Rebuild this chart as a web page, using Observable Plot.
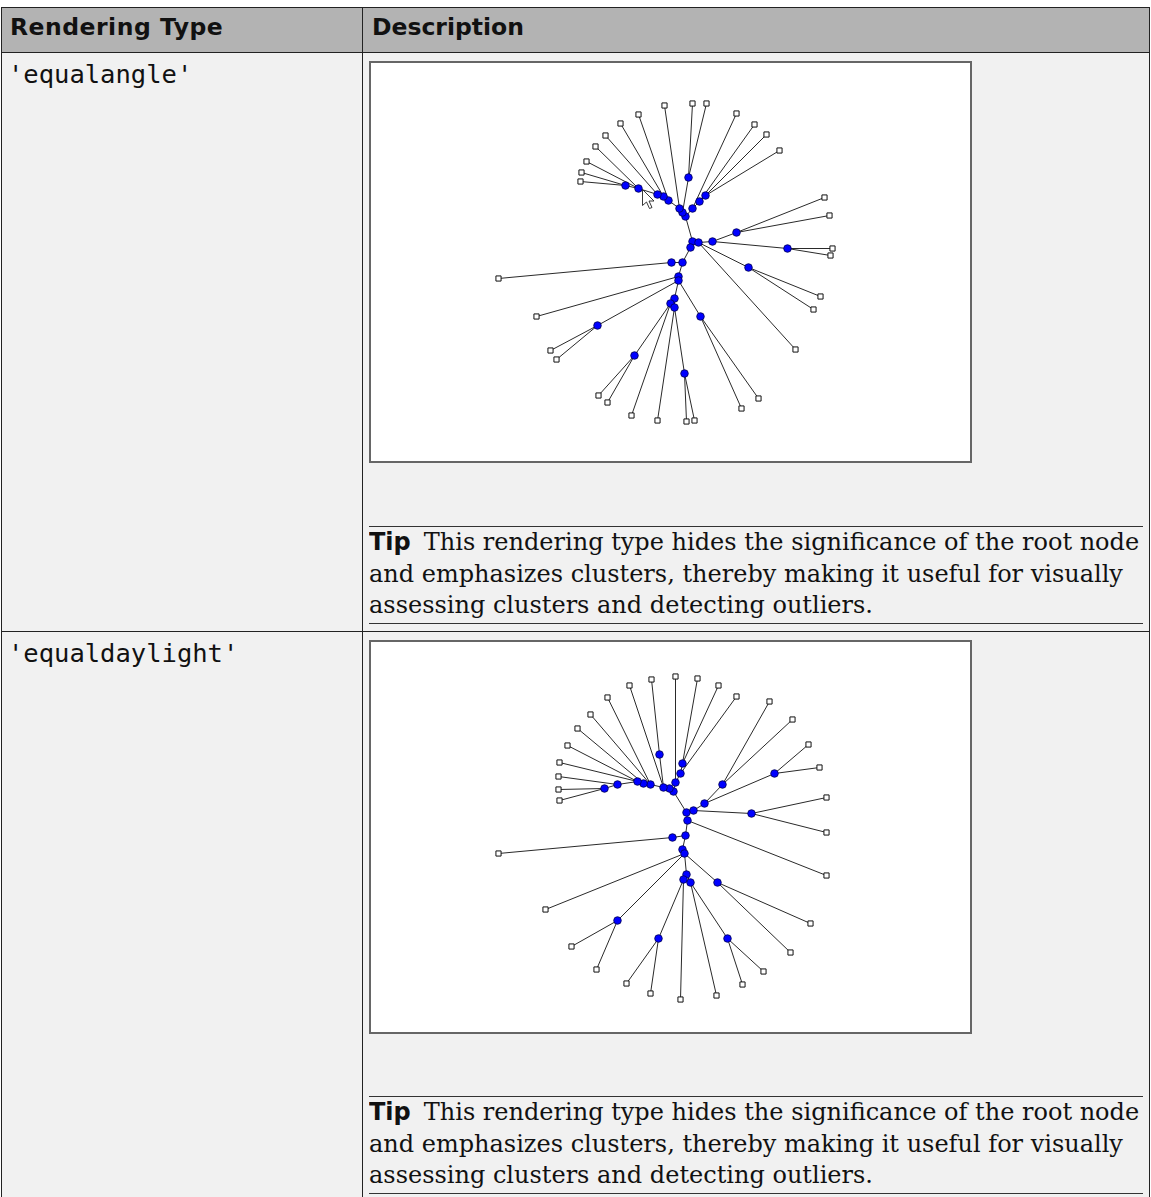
<!DOCTYPE html>
<html>
<head>
<meta charset="utf-8">
<script src="https://cdn.jsdelivr.net/npm/d3@7"></script>
<script src="https://cdn.jsdelivr.net/npm/@observablehq/plot@0.6"></script>
<style>
  html, body { margin: 0; padding: 0; background: #fff; }
  body { width: 1151px; height: 1197px; position: relative; overflow: hidden; }
  .abs { position: absolute; box-sizing: border-box; }
  .hdr { background: #b3b3b3; }
  .htext { font-family: "DejaVu Sans", sans-serif; font-weight: bold; font-size: 23.5px; color: #111; white-space: nowrap; }
  .mono { font-family: "DejaVu Sans Mono", monospace; font-size: 25.5px; color: #111; white-space: nowrap; }
  .box { background: #fff; border: 2px solid #666; }
  .tip { border-top: 1px solid #333; border-bottom: 1px solid #333; font-family: "DejaVu Serif", serif; font-size: 24px; line-height: 31.5px; color: #111; white-space: nowrap; overflow: hidden; }
  .tip b { font-family: "DejaVu Sans", sans-serif; font-weight: bold; margin-right: 13px; }
</style>
</head>
<body>
<script>
// ---- Table text ----
const headers = ["Rendering Type", "Description"];
const renderTypes = ["'equalangle'", "'equaldaylight'"];
const tipLabel = "Tip";
const tipLines = [
  "This rendering type hides the significance of the root node",
  "and emphasizes clusters, thereby making it useful for visually",
  "assessing clusters and detecting outliers."
];

// ---- Tree 1 ('equalangle'): internal nodes [id, x, y, parent] ----
const tree1Internal = [
  ["h0", 315, 154, null], ["h1", 312, 150, "h0"], ["u0", 309, 146, "h1"],
  ["u1", 298, 138, "u0"], ["u2", 293, 134, "u1"], ["u3", 287, 132, "u2"],
  ["u4", 268, 126, "u3"], ["u5", 255, 123, "u4"], ["t0", 318, 115, "h1"],
  ["r0", 322, 146, "h0"], ["r1", 329, 139, "r0"], ["r2", 335, 133, "r1"],
  ["s0", 322, 179, "h0"], ["s1", 328, 180, "s0"], ["s2", 342, 179, "s1"],
  ["s3", 366, 170, "s2"], ["s4", 417, 186, "s2"], ["s5", 378, 205, "s1"],
  ["s6", 320, 185, "s0"], ["l0", 312, 200, "s6"], ["l1", 301, 200, "l0"],
  ["l2", 308, 214, "l0"], ["l3", 308, 218, "l2"], ["l4", 227, 263, "l3"],
  ["l5", 304, 236, "l3"], ["l6", 300, 241, "l5"], ["l7", 304, 245, "l5"],
  ["l8", 264, 293, "l6"], ["l9", 314, 311, "l7"], ["l10", 330, 254, "l3"]
];
// ---- Tree 1 leaves [x, y, parent] ----
const tree1Leaves = [
  [210, 119, "u5"], [211, 110, "u5"], [216, 99, "u4"], [225, 84, "u4"],
  [235, 73, "u3"], [250, 61, "u2"], [268, 52, "u1"], [294, 43, "u0"],
  [322, 41, "t0"], [336, 41, "t0"], [366, 51, "r0"], [384, 62, "r1"],
  [396, 72, "r2"], [409, 88, "r2"], [454, 135, "s3"], [459, 153, "s3"],
  [462, 186, "s4"], [460, 193, "s4"], [450, 234, "s5"], [443, 247, "s5"],
  [425, 287, "s1"], [128, 216, "l1"], [166, 254, "l2"], [180, 288, "l4"],
  [186, 297, "l4"], [228, 333, "l8"], [237, 340, "l8"], [261, 353, "l6"],
  [287, 358, "l7"], [316, 359, "l9"], [324, 358, "l9"], [388, 336, "l10"],
  [371, 346, "l10"]
];
// mouse pointer visible in the tree 1 screenshot [x, y]
const tree1Cursor = [[272, 127]];

// ---- Tree 2 ('equaldaylight'): internal nodes [id, x, y, parent] ----
const tree2Internal = [
  ["H", 303, 150, null], ["H2", 299, 147, "H"], ["a0", 293, 146, "H2"],
  ["a1", 280, 143, "a0"], ["a2", 273, 142, "a1"], ["a3", 267, 140, "a2"],
  ["a4", 247, 143, "a3"], ["a5", 234, 147, "a4"], ["a6", 289, 113, "a0"],
  ["b0", 305, 141, "H"], ["b1", 310, 132, "b0"], ["b2", 312, 122, "b1"],
  ["c0", 316, 171, "H"], ["c1", 323, 169, "c0"], ["c2", 334, 162, "c1"],
  ["c3", 352, 143, "c2"], ["c4", 404, 132, "c2"], ["c5", 381, 172, "c1"],
  ["d0", 317, 179, "c0"], ["d1", 315, 194, "d0"], ["d2", 302, 196, "d1"],
  ["d3", 312, 208, "d1"], ["d4", 314, 212, "d3"], ["d5", 247, 279, "d4"],
  ["d6", 316, 233, "d4"], ["d7", 313, 238, "d6"], ["d8", 320, 241, "d6"],
  ["d9", 288, 297, "d7"], ["d10", 357, 297, "d8"], ["d11", 347, 241, "d4"]
];
// ---- Tree 2 leaves [x, y, parent] ----
const tree2Leaves = [
  [281, 38, "a6"], [259, 44, "a0"], [237, 56, "a1"], [220, 73, "a1"],
  [207, 87, "a2"], [197, 104, "a3"], [189, 121, "a3"], [188, 135, "a4"],
  [188, 148, "a5"], [189, 159, "a5"],
  [305, 35, "b0"], [327, 37, "b2"], [348, 44, "b2"], [366, 55, "b1"],
  [399, 60, "c3"], [422, 78, "c3"], [438, 103, "c4"], [449, 126, "c4"],
  [456, 156, "c5"], [456, 191, "c5"], [456, 234, "d0"], [440, 282, "d11"],
  [420, 311, "d11"], [393, 330, "d10"], [372, 343, "d10"], [346, 354, "d8"],
  [310, 358, "d7"], [280, 352, "d9"], [256, 342, "d9"], [226, 328, "d5"],
  [201, 305, "d5"], [175, 268, "d4"], [128, 212, "d2"]
];

function el(cls, style, html) {
  const d = document.createElement("div");
  d.className = "abs " + cls;
  Object.assign(d.style, style);
  if (html != null) d.innerHTML = html;
  document.body.appendChild(d);
  return d;
}

// Table frame
el("", {left: "1px", top: "7px", width: "1149px", height: "1200px", border: "1px solid #222", background: "#f1f1f1"});
el("hdr", {left: "1px", top: "7px", width: "1149px", height: "46px", border: "1px solid #222"});
el("", {left: "362px", top: "7px", width: "1px", height: "1200px", background: "#222"});
el("", {left: "1px", top: "631px", width: "1149px", height: "1px", background: "#222"});
el("htext", {left: "10px", top: "13px", letterSpacing: "0.5px"}, headers[0]);
el("htext", {left: "372px", top: "13px"}, headers[1]);
el("mono", {left: "8px", top: "59px"}, renderTypes[0]);
el("mono", {left: "8px", top: "638px"}, renderTypes[1]);

function tipBox(top) {
  el("tip", {left: "369px", top: top + "px", width: "774px", height: "98px"},
     "<b>" + tipLabel + "</b>" + tipLines.join("<br>"));
}
tipBox(526);
tipBox(1096);

// pointer-arrow symbol (tip of the arrow at the data point)
const pointerSymbol = {
  draw(ctx) {
    const pts = [[0, 0], [0, 16], [4, 12.5], [7, 19], [9.5, 18], [6.5, 11.5], [11.5, 11.5]];
    ctx.moveTo(pts[0][0], pts[0][1]);
    for (const [px, py] of pts.slice(1)) ctx.lineTo(px, py);
    ctx.closePath();
  }
};

function drawTree(internal, leaves, W, H, cursor) {
  const pos = new Map(internal.map(([id, x, y]) => [id, {x, y}]));
  const nodes = internal.map(([id, x, y, p]) => ({id, x, y, p}));
  const tips = leaves.map(([x, y, p]) => ({x, y, p}));
  const edges = [];
  for (const n of nodes) if (n.p) edges.push({x1: pos.get(n.p).x, y1: pos.get(n.p).y, x2: n.x, y2: n.y});
  for (const t of tips) edges.push({x1: pos.get(t.p).x, y1: pos.get(t.p).y, x2: t.x, y2: t.y});
  const marks = [
    Plot.link(edges, {x1: "x1", y1: "y1", x2: "x2", y2: "y2", stroke: "#2a2a2a", strokeWidth: 1}),
    Plot.dot(tips, {x: "x", y: "y", symbol: "square", r: 2.9, fill: "#fff", stroke: "#111", strokeWidth: 1}),
    Plot.dot(nodes, {x: "x", y: "y", r: 3.8, fill: "#0000ff", stroke: "#000050", strokeWidth: 0.8})
  ];
  if (cursor) marks.push(Plot.dot(cursor, {x: d => d[0], y: d => d[1], symbol: pointerSymbol, fill: "#fff", stroke: "#222", strokeWidth: 0.9}));
  return Plot.plot({
    width: W, height: H, margin: 0,
    x: {domain: [1, 1 + W], axis: null},
    y: {domain: [1, 1 + H], axis: null, reverse: true},
    style: {background: "#fff"},
    marks
  });
}

const b1 = el("box", {left: "369px", top: "61px", width: "603px", height: "402px"});
b1.appendChild(drawTree(tree1Internal, tree1Leaves, 599, 398, tree1Cursor));
const b2 = el("box", {left: "369px", top: "640px", width: "603px", height: "394px"});
b2.appendChild(drawTree(tree2Internal, tree2Leaves, 599, 390, null));
</script>
</body>
</html>
